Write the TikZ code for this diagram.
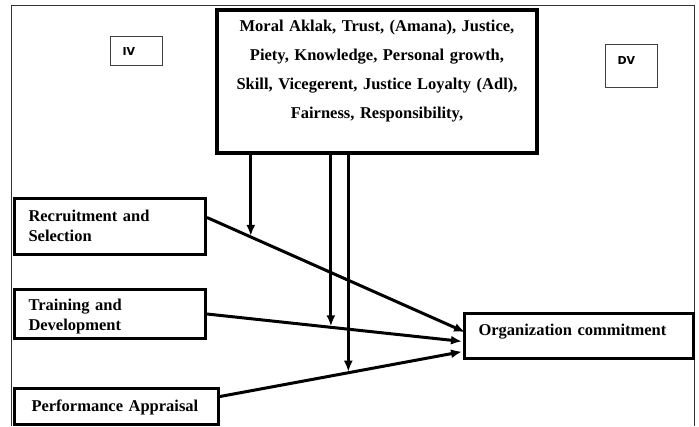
\documentclass[tikz,border=0pt]{standalone}
\usepackage{fontspec}
\setmainfont{Liberation Serif}
\newfontfamily\tagfont{DejaVu Sans}
\usepackage{tikz}
\usetikzlibrary{arrows,arrows.meta,positioning}

\begin{document}
\begin{tikzpicture}[x=1pt, y=-1pt,
	var/.style={draw, line width=3pt, anchor=north west, align=left, inner ysep=0pt, inner xsep=14pt, font=\fontsize{16.5}{19.5}\selectfont\bfseries},
	tag/.style={draw=black!75, line width=1pt, anchor=north west, align=left, inner ysep=0pt, inner xsep=12pt, text width=28pt, font=\tagfont\fontsize{11}{13}\selectfont\bfseries},
	arr/.style={line width=3pt, shorten >=1pt, -{Latex[length=11pt,width=9pt]}}]
			\useasboundingbox (0,0) rectangle (699,426);
			\draw [line width=1pt, black!80] (11,426) -- (11,5) -- (694,5) -- (694,426);

			\node[tag, text height=19pt, text depth=10pt] (iv) at (110,36) {IV};
			\node[tag, text height=20pt, text depth=23pt] (dv) at (605,44) {DV};
			\node[var, line width=4pt, align=center, inner xsep=1pt, text width=318pt, text height=21pt, text depth=122pt, font=\fontsize{16.5}{29.3}\selectfont\bfseries] (mod) at (215,8) {Moral Aklak, Trust, (Amana), Justice,\\Piety, Knowledge, Personal growth,\\Skill, Vicegerent, Justice Loyalty (Adl),\\Fairness, Responsibility,};
			\node[var, text width=163pt, text height=23pt, text depth=33pt] (rs) at (13,197) {Recruitment and\\Selection};
			\node[var, text width=163pt, text height=21pt, text depth=28pt] (td) at (13,288) {Training and\\Development};
			\node[var, inner xsep=17pt, text width=170pt, text height=23pt, text depth=13pt] (pa) at (13,387) {Performance Appraisal};
			\node[var, text width=201pt, text height=22pt, text depth=23pt] (oc) at (463,312) {Organization commitment};

			\draw [arr] ([yshift=9pt]rs.east) -- coordinate[pos=0.169] (m1) ([xshift=3pt, yshift=3.5pt]oc.west);
			\draw [arr] (td.east) -- coordinate[pos=0.484] (m2) ([yshift=-5.5pt]oc.west);
			\draw [arr] ([yshift=10pt]pa.east) -- coordinate[pos=0.528] (m3) ([yshift=-15.5pt]oc.west);
			\draw [arr] (mod.south -| m1) -- (m1);
			\draw [arr] (mod.south -| m2) -- (m2);
			\draw [arr] (mod.south -| m3) -- (m3);
		\end{tikzpicture}
\end{document}
